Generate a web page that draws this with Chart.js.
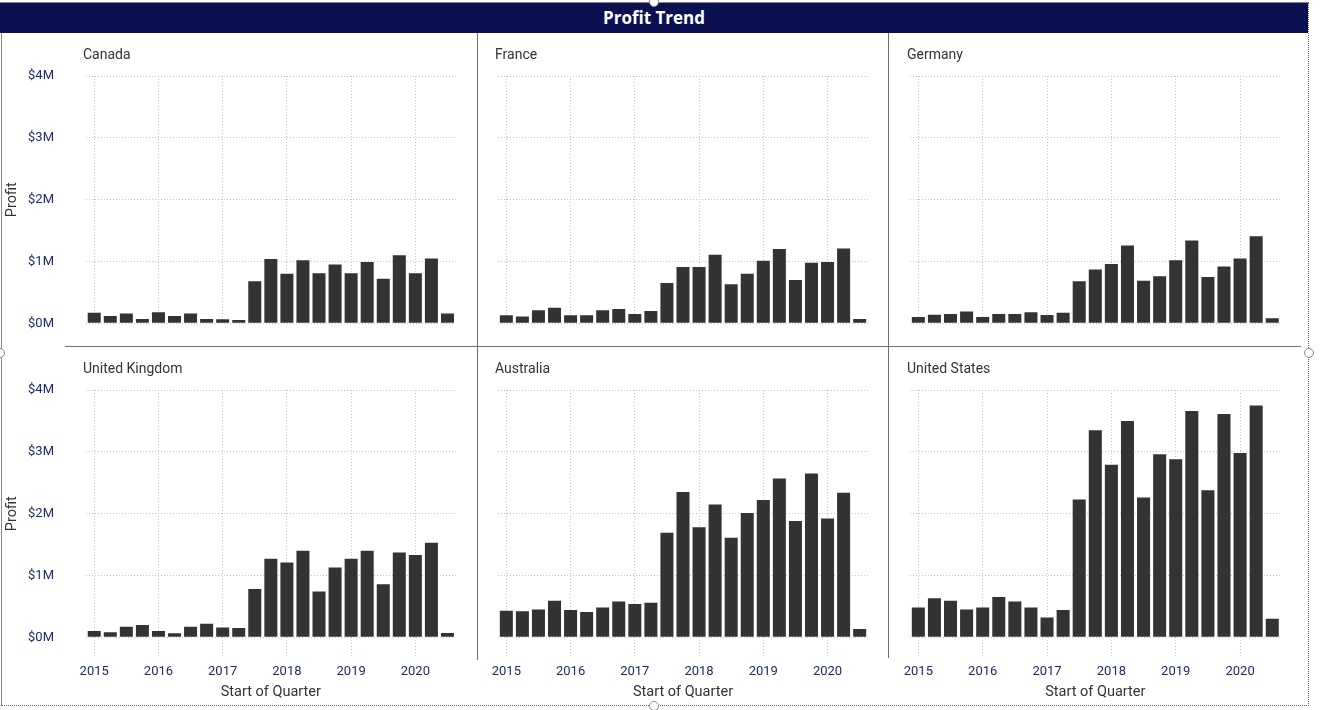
<!DOCTYPE html>
<html>
<head>
<meta charset="utf-8">
<script src="https://cdn.jsdelivr.net/npm/chart.js@4.4.0/dist/chart.umd.min.js"></script>
<style>
  body { margin:0; width:1322px; height:710px; overflow:hidden; background:#fff; position:relative; font-family:Roboto, sans-serif; }
  .abs { position:absolute; }
  #header { left:0; top:3px; width:1308px; height:30px; background:#0b1150; color:#fff;
            font:bold 17px "Open Sans", sans-serif; text-align:center; line-height:29px; }
  .ptitle { font-size:14px; line-height:14px; color:#333; white-space:nowrap; }
  .vline { width:1px; background:#707070; }
  .hline { height:1px; background:#707070; }
  .handle { width:10px; height:10px; border-radius:50%; background:#fff; border:1px solid #888; box-sizing:border-box; }
  canvas { position:absolute; }
</style>
</head>
<body>
<div id="header" class="abs">Profit Trend</div>
<div class="abs hline" style="left:0;top:2px;width:1308px;background:#888"></div>
<div class="abs vline" style="left:1px;top:33px;height:672px;background:#888"></div>
<div class="abs" style="left:1308px;top:2px;height:704px;border-left:1px dotted #666"></div>
<div class="abs" style="left:1px;top:705px;width:1308px;border-top:1px dotted #666"></div>

<canvas id="c0" width="470" height="312" style="left:0;top:34px"></canvas>
<canvas id="c1" width="410" height="312" style="left:478px;top:34px"></canvas>
<canvas id="c2" width="419" height="312" style="left:889px;top:34px"></canvas>
<canvas id="c3" width="470" height="358" style="left:0;top:347px"></canvas>
<canvas id="c4" width="410" height="358" style="left:478px;top:347px"></canvas>
<canvas id="c5" width="419" height="358" style="left:889px;top:347px"></canvas>

<div class="abs vline" style="left:477px;top:33px;height:627px"></div>
<div class="abs vline" style="left:888px;top:33px;height:625px"></div>
<div class="abs hline" style="left:65px;top:346px;width:1236px"></div>

<div class="abs ptitle" style="left:83px;top:47px">Canada</div>
<div class="abs ptitle" style="left:495px;top:47px">France</div>
<div class="abs ptitle" style="left:907px;top:47px">Germany</div>
<div class="abs ptitle" style="left:83px;top:361px">United Kingdom</div>
<div class="abs ptitle" style="left:495px;top:361px">Australia</div>
<div class="abs ptitle" style="left:907px;top:361px">United States</div>

<div class="abs handle" style="left:649px;top:-3px"></div>
<div class="abs handle" style="left:-5px;top:348px"></div>
<div class="abs handle" style="left:1304px;top:348px"></div>
<div class="abs handle" style="left:649px;top:701px"></div>

<script>
const quarters = ['2015 Q1','2015 Q2','2015 Q3','2015 Q4','2016 Q1','2016 Q2','2016 Q3','2016 Q4',
                  '2017 Q1','2017 Q2','2017 Q3','2017 Q4','2018 Q1','2018 Q2','2018 Q3','2018 Q4',
                  '2019 Q1','2019 Q2','2019 Q3','2019 Q4','2020 Q1','2020 Q2','2020 Q3'];
const yearTicks = ['2015','2016','2017','2018','2019','2020'];
const yTicks = ['$0M','$1M','$2M','$3M','$4M'];

// profit in $M per quarter
const canada    = [0.17,0.12,0.16,0.07,0.18,0.12,0.16,0.07,0.065,0.055,0.68,1.04,0.80,1.02,0.81,0.95,0.81,0.99,0.72,1.10,0.81,1.05,0.16];
const france    = [0.13,0.11,0.21,0.25,0.13,0.13,0.21,0.23,0.15,0.20,0.65,0.91,0.91,1.11,0.63,0.80,1.01,1.20,0.70,0.98,0.99,1.21,0.07];
const germany   = [0.10,0.14,0.15,0.19,0.10,0.15,0.15,0.18,0.135,0.17,0.68,0.87,0.96,1.26,0.69,0.76,1.02,1.34,0.75,0.92,1.05,1.41,0.08];
const uk        = [0.10,0.08,0.17,0.20,0.10,0.065,0.17,0.22,0.16,0.15,0.78,1.27,1.21,1.40,0.74,1.13,1.27,1.40,0.86,1.37,1.33,1.53,0.07];
const australia = [0.43,0.42,0.45,0.59,0.44,0.41,0.48,0.58,0.54,0.56,1.69,2.35,1.78,2.15,1.61,2.01,2.22,2.57,1.88,2.65,1.92,2.34,0.135];
const us        = [0.48,0.63,0.59,0.45,0.48,0.65,0.58,0.48,0.32,0.44,2.23,3.35,2.79,3.50,2.26,2.96,2.88,3.66,2.38,3.61,2.98,3.75,0.30];

const gridColor = '#c4c4c4';
const labelColor = '#1e2b6b';
const titleColor = '#333333';
const font = {family: 'Roboto', size: 13};
const titleFont = {family: 'Roboto', size: 14.5};

// column/row geometry of each small multiple
const cols = [{yw: 86.2, pr: 14.5}, {yw: 20.3, pr: 20.3}, {yw: 21.3, pr: 27.7}];
const rows = [{pt: 42, xh: 22.7}, {pt: 43, xh: 67.7}];

function panel(id, values, col, row, showY, showX) {
    const q1 = c => c.index % 4 === 0 ? gridColor : 'rgba(0,0,0,0)';
    new Chart(document.getElementById(id), {
        type: 'bar',
        data: {
            labels: quarters,
            datasets: [{
                data: values,
                backgroundColor: '#333333',
                categoryPercentage: 1,
                barPercentage: 0.81
            }]
        },
        options: {
            responsive: false,
            animation: false,
            layout: {padding: {top: row.pt, right: col.pr, left: 0, bottom: 0}},
            plugins: {
                legend: {display: false},
                tooltip: {enabled: false}
            },
            scales: {
                x: {
                    grid: {
                        offset: false,
                        drawTicks: showX,
                        tickLength: 20,
                        tickBorderDash: [1, 2],
                        tickColor: q1,
                        color: q1
                    },
                    border: {display: false, dash: [1, 2]},
                    ticks: {
                        display: showX,
                        autoSkip: false,
                        maxRotation: 0,
                        padding: 6.9,
                        color: labelColor,
                        font: font,
                        callback: (v, i) => i % 4 === 0 ? yearTicks[i / 4] : ''
                    },
                    title: {
                        display: showX,
                        text: 'Start of Quarter',
                        color: titleColor,
                        font: titleFont,
                        padding: {top: 0, bottom: 4.3}
                    },
                    afterFit: s => { s.height = row.xh; }
                },
                y: {
                    min: 0,
                    max: 4,
                    grid: {drawTicks: false, color: gridColor},
                    border: {display: false, dash: [1, 2]},
                    ticks: {
                        display: showY,
                        stepSize: 1,
                        padding: 32.2,
                        color: labelColor,
                        font: font,
                        callback: v => yTicks[v]
                    },
                    title: {
                        display: showY,
                        text: 'Profit',
                        color: titleColor,
                        font: titleFont,
                        padding: {top: 4.1, bottom: 0}
                    },
                    afterFit: s => {
                        s.width = col.yw;
                        s.paddingTop = 0;
                        s.paddingBottom = 0;
                    }
                }
            }
        }
    });
}

panel('c0', canada,    cols[0], rows[0], true,  false);
panel('c1', france,    cols[1], rows[0], false, false);
panel('c2', germany,   cols[2], rows[0], false, false);
panel('c3', uk,        cols[0], rows[1], true,  true);
panel('c4', australia, cols[1], rows[1], false, true);
panel('c5', us,        cols[2], rows[1], false, true);
</script>
</body>
</html>
